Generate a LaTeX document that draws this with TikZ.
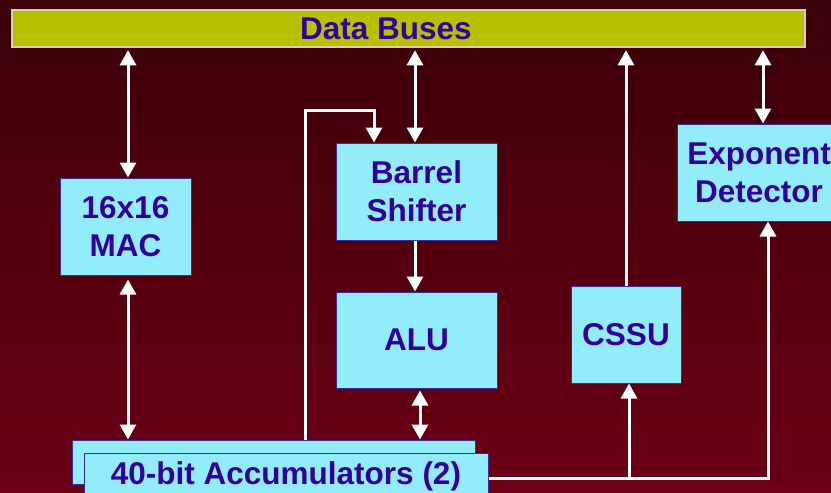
\documentclass[tikz,border=0pt]{standalone}
\usepackage{fontspec}
\setmainfont{Liberation Sans}
\usepackage{tikz}
\usetikzlibrary{arrows.meta,positioning,calc}
\definecolor{dspbgtop}{HTML}{3A0007}
\definecolor{dspbgbot}{HTML}{6C0016}
\definecolor{dspcyan}{HTML}{92ECFA}
\definecolor{dspedge}{HTML}{3A2CA8}
\definecolor{dspink}{HTML}{330099}
\definecolor{dspbus}{HTML}{B8C000}
\definecolor{dspbusedge}{HTML}{D6D0B8}
\newcommand{\dspfont}{\fontsize{31.5}{38}\selectfont\bfseries}
\tikzset{
  unitbox/.style={draw=dspedge,line width=1pt,fill=dspcyan,text=dspink,
                  font=\dspfont,align=center,inner sep=0pt},
  busbar/.style={draw=dspbusedge,line width=1.5pt,fill=dspbus,inner sep=0pt},
  buslabel/.style={text=dspink,font=\dspfont,inner sep=0pt},
  oneway/.style={-{Triangle[width=16pt,length=15pt]},line width=3pt,draw=white},
  twoway/.style={{Triangle[width=16pt,length=15pt]}-{Triangle[width=16pt,length=15pt]},
                 line width=3pt,draw=white},
  wire/.style={line width=3pt,draw=white}
}

\begin{document}
\begin{tikzpicture}[x=1pt,y=-1pt]
    \useasboundingbox (0,0) rectangle (831,493);
    \clip (0,0) rectangle (831,493);
    \shade[top color=dspbgtop,bottom color=dspbgbot] (0,0) rectangle (831,493);

    \node[busbar,minimum width=793pt,minimum height=37pt] (bus) at (408.5,28.5) {};
    \node[buslabel] (busname) at (386,29) {Data Buses};

    \node[unitbox,minimum width=131pt,minimum height=97pt] (mac) at (125.5,226.5) {16x16\\MAC};
    \node[unitbox,minimum width=161pt,minimum height=97pt] (shifter) at (416.5,191.5) {Barrel\\Shifter};
    \node[unitbox,minimum width=161pt,minimum height=96pt] (alu) at (416.5,340) {ALU};
    \node[unitbox,minimum width=110pt,minimum height=97pt] (cssu) at (626,334.5) {CSSU};
    \node[unitbox,minimum width=164pt,minimum height=97pt] (expdet) at (759,172.5) {Exponent\\Detector};
    \node[unitbox,minimum width=403pt,minimum height=44pt] (accback) at (273.5,462) {};
    \node[unitbox,minimum width=404pt,minimum height=46pt] (accfront) at (286,476) {40-bit Accumulators (2)};

    % links to the data buses
    \draw[twoway,shorten >=2.5pt] ([xshift=2.5]mac.north) -- ([xshift=2.5]mac.north |- bus.south);
    \draw[twoway,shorten >=2.5pt] ([xshift=-1.5]shifter.north) -- ([xshift=-1.5]shifter.north |- bus.south);
    \draw[oneway,shorten >=2.5pt] (cssu.north) -- (cssu.north |- bus.south);
    \draw[twoway,shorten >=2.5pt] ([xshift=4]expdet.north) -- ([xshift=4]expdet.north |- bus.south);

    % datapath
    \draw[twoway,shorten <=4pt] ([xshift=2.5]mac.south) -- ([xshift=2.5]mac.south |- accback.north);
    \draw[oneway] ([xshift=-1.5]shifter.south) -- ([xshift=-1.5]alu.north);
    \draw[twoway,shorten <=2pt] ([xshift=3.5]alu.south) -- ([xshift=3.5]alu.south |- accback.north);
    \coordinate (loopin) at ([xshift=-42.5]shifter.north);
    \coordinate (loopout) at ([xshift=31.5]accback.north);
    \draw[oneway] (loopout) |- ([yshift=32]loopin) -- (loopin);

    \coordinate (accout) at ([yshift=-2]accfront.east);
    \coordinate (cssuin) at ([xshift=3]cssu.south);
    \coordinate (expin) at ([xshift=9]expdet.south);
    \draw[oneway] (accout) -| (expin);
    \draw[oneway] (accout -| cssuin) -- (cssuin);
  \end{tikzpicture}
\end{document}
